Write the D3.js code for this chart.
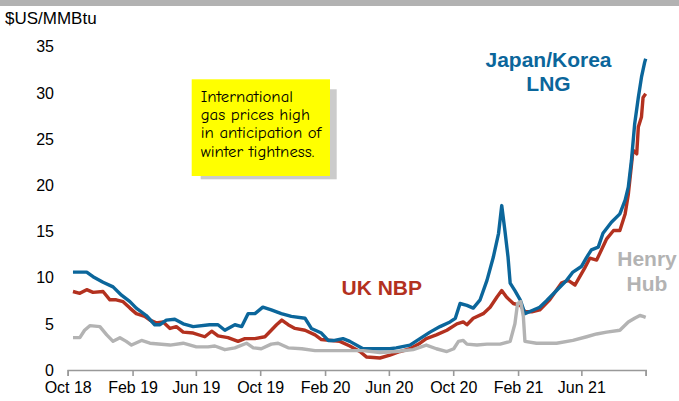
<!DOCTYPE html>
<html>
<head>
<meta charset="utf-8">
<script src="https://cdn.jsdelivr.net/npm/d3@7"></script>
<style>
  body { margin: 0; background: #fff; }
  svg { display: block; font-family: Arial, "Liberation Sans", sans-serif; }
</style>
</head>
<body>
<div id="chart"></div>
<script>
// International gas prices, $US/MMBtu, Oct 2018 - Oct 2021

var jkLNG = [
  ["2018-10-11", 10.6], ["2018-11-06", 10.6], ["2018-11-18", 10.1], ["2018-12-07", 9.5],
  ["2018-12-26", 9.0], ["2019-01-11", 8.1], ["2019-01-27", 7.4], ["2019-02-08", 6.7],
  ["2019-02-27", 5.9], ["2019-03-15", 4.9], ["2019-03-25", 4.9], ["2019-04-06", 5.4],
  ["2019-04-22", 5.5], ["2019-05-08", 5.0], ["2019-05-27", 4.7], ["2019-06-27", 4.9],
  ["2019-07-13", 4.9], ["2019-07-26", 4.3], ["2019-08-14", 4.9], ["2019-08-27", 4.7],
  ["2019-09-08", 6.1], ["2019-09-21", 6.1], ["2019-10-06", 6.8], ["2019-10-22", 6.5],
  ["2019-11-10", 6.1], ["2019-11-29", 5.8], ["2019-12-25", 5.6], ["2020-01-06", 4.5],
  ["2020-01-25", 4.0], ["2020-02-07", 3.2], ["2020-02-19", 3.2], ["2020-03-06", 3.4],
  ["2020-03-19", 3.1], ["2020-04-13", 2.3], ["2020-06-03", 2.3], ["2020-06-15", 2.4],
  ["2020-07-11", 2.7], ["2020-07-30", 3.4], ["2020-08-18", 4.1], ["2020-09-06", 4.7],
  ["2020-09-25", 5.2], ["2020-10-05", 5.6], ["2020-10-14", 7.2], ["2020-10-27", 7.0],
  ["2020-11-08", 6.7], ["2020-11-21", 7.6], ["2020-12-04", 9.7], ["2020-12-16", 12.2],
  ["2020-12-26", 14.8], ["2021-01-01", 17.8], ["2021-01-07", 15.1], ["2021-01-13", 12.2],
  ["2021-01-17", 9.4], ["2021-01-26", 8.6], ["2021-02-05", 7.6], ["2021-02-14", 6.1],
  ["2021-03-02", 6.5], ["2021-03-14", 6.8], ["2021-03-27", 7.5], ["2021-04-15", 8.6],
  ["2021-05-04", 9.7], ["2021-05-16", 10.6], ["2021-06-01", 11.2], ["2021-06-11", 12.2],
  ["2021-06-20", 13.0], ["2021-07-03", 13.3], ["2021-07-12", 14.8], ["2021-07-28", 16.0],
  ["2021-08-13", 16.9], ["2021-08-23", 18.4], ["2021-08-29", 19.8], ["2021-09-04", 22.7],
  ["2021-09-10", 26.6], ["2021-09-17", 29.5], ["2021-09-23", 31.7], ["2021-09-29", 33.3],
  ["2021-10-01", 33.7]
];

var ukNBP = [
  ["2018-10-11", 8.5], ["2018-10-24", 8.3], ["2018-11-06", 8.7], ["2018-11-18", 8.4],
  ["2018-12-07", 8.5], ["2018-12-20", 7.6], ["2019-01-01", 7.6], ["2019-01-14", 7.4],
  ["2019-01-27", 6.7], ["2019-02-08", 6.1], ["2019-02-24", 5.8], ["2019-03-06", 5.4],
  ["2019-03-18", 5.1], ["2019-03-31", 5.2], ["2019-04-13", 4.5], ["2019-04-25", 4.7],
  ["2019-05-08", 4.1], ["2019-05-27", 4.0], ["2019-06-18", 3.6], ["2019-07-01", 4.2],
  ["2019-07-13", 3.7], ["2019-08-01", 3.5], ["2019-08-20", 3.1], ["2019-09-02", 3.4],
  ["2019-09-21", 3.4], ["2019-10-10", 3.6], ["2019-10-22", 4.3], ["2019-11-01", 4.9],
  ["2019-11-11", 5.4], ["2019-11-23", 4.9], ["2019-12-06", 4.5], ["2019-12-25", 4.3],
  ["2020-01-13", 3.8], ["2020-01-25", 3.3], ["2020-02-13", 3.2], ["2020-02-29", 3.1],
  ["2020-03-19", 2.6], ["2020-04-07", 2.0], ["2020-04-20", 1.4], ["2020-05-15", 1.3],
  ["2020-06-03", 1.6], ["2020-06-22", 2.0], ["2020-07-11", 2.3], ["2020-07-30", 2.9],
  ["2020-08-11", 3.4], ["2020-08-30", 3.8], ["2020-09-19", 4.3], ["2020-10-08", 5.0],
  ["2020-10-20", 5.2], ["2020-10-27", 4.9], ["2020-11-08", 5.6], ["2020-11-27", 6.1],
  ["2020-12-10", 6.8], ["2020-12-23", 7.9], ["2021-01-01", 8.6], ["2021-01-10", 7.9],
  ["2021-01-23", 7.2], ["2021-02-05", 7.0], ["2021-02-14", 6.3], ["2021-02-27", 6.3],
  ["2021-03-14", 6.5], ["2021-04-02", 7.6], ["2021-04-24", 9.4], ["2021-05-07", 9.7],
  ["2021-05-20", 9.2], ["2021-05-29", 10.1], ["2021-06-07", 11.0], ["2021-06-17", 12.1],
  ["2021-06-30", 11.9], ["2021-07-09", 13.0], ["2021-07-19", 14.2], ["2021-08-01", 15.1],
  ["2021-08-13", 15.1], ["2021-08-23", 16.9], ["2021-08-29", 19.0], ["2021-09-07", 23.8],
  ["2021-09-14", 23.4], ["2021-09-17", 26.3], ["2021-09-23", 27.4], ["2021-09-26", 29.5],
  ["2021-10-01", 29.9]
];

var henryHub = [
  ["2018-10-11", 3.5], ["2018-10-24", 3.5], ["2018-11-02", 4.3], ["2018-11-12", 4.8],
  ["2018-12-01", 4.7], ["2018-12-14", 3.8], ["2018-12-26", 3.1], ["2019-01-08", 3.5],
  ["2019-01-20", 3.1], ["2019-01-30", 2.7], ["2019-02-18", 3.2], ["2019-03-06", 2.9],
  ["2019-04-13", 2.7], ["2019-05-08", 2.9], ["2019-06-02", 2.5], ["2019-06-24", 2.5],
  ["2019-07-07", 2.6], ["2019-07-26", 2.2], ["2019-08-14", 2.4], ["2019-09-05", 2.9],
  ["2019-09-18", 2.4], ["2019-10-03", 2.3], ["2019-10-22", 2.8], ["2019-11-04", 2.9],
  ["2019-11-23", 2.4], ["2019-12-19", 2.3], ["2020-01-13", 2.1], ["2020-02-13", 2.1],
  ["2020-03-19", 2.1], ["2020-04-13", 2.1], ["2020-05-15", 1.9], ["2020-06-15", 2.0],
  ["2020-07-17", 2.2], ["2020-08-11", 2.7], ["2020-08-30", 2.3], ["2020-09-19", 2.0],
  ["2020-10-02", 2.3], ["2020-10-11", 3.1], ["2020-10-20", 3.2], ["2020-10-27", 2.8],
  ["2020-11-15", 2.7], ["2020-12-04", 2.8], ["2020-12-29", 2.8], ["2021-01-17", 3.1],
  ["2021-01-26", 5.0], ["2021-01-31", 7.2], ["2021-02-06", 7.4], ["2021-02-11", 5.8],
  ["2021-02-14", 3.1], ["2021-03-08", 2.9], ["2021-04-02", 2.9], ["2021-04-15", 2.9],
  ["2021-05-16", 3.2], ["2021-06-11", 3.6], ["2021-06-30", 3.9], ["2021-07-19", 4.1],
  ["2021-08-13", 4.3], ["2021-08-29", 5.2], ["2021-09-10", 5.6], ["2021-09-20", 5.9],
  ["2021-09-26", 5.8], ["2021-10-01", 5.7]
];

var xTickDates = ["2018-10-01", "2019-02-01", "2019-06-01", "2019-10-01", "2020-02-01",
                  "2020-06-01", "2020-10-01", "2021-02-01", "2021-06-01", "2021-10-01"];
var xTickLabels = ["Oct 18", "Feb 19", "Jun 19", "Oct 19", "Feb 20",
                   "Jun 20", "Oct 20", "Feb 21", "Jun 21", ""];
var yTicks = [0, 5, 10, 15, 20, 25, 30, 35];

var noteLines = ["International", "gas prices high", "in anticipation of", "winter tightness."];

var blue = "#0b669b", red = "#b3311f", grey = "#b3b3b3";

var width = 679, height = 401;
var parse = d3.timeParse("%Y-%m-%d");

var svg = d3.select("#chart").append("svg")
    .attr("width", width)
    .attr("height", height);

// grey strip along the top
svg.append("rect")
    .attr("x", 0).attr("y", 0)
    .attr("width", width).attr("height", 6)
    .attr("fill", "#b2b2b2");

var x = d3.scaleTime()
    .domain([parse("2018-10-01"), parse("2021-10-01")])
    .range([67.7, 645.7]);

var y = d3.scaleLinear()
    .domain([0, 35])
    .range([370, 46.7]);

// y labels (no axis line)
svg.append("g")
    .selectAll("text")
    .data(yTicks)
  .enter().append("text")
    .attr("x", 54)
    .attr("y", function(d) { return y(d); })
    .attr("dy", "0.36em")
    .attr("text-anchor", "end")
    .style("font-size", "16px")
    .attr("fill", "#000")
    .text(function(d) { return d; });

// x axis
var xAxis = d3.axisBottom(x)
    .tickValues(xTickDates.map(parse))
    .tickSizeOuter(0)
    .tickSize(6)
    .tickPadding(6)
    .tickFormat(function(d, i) { return xTickLabels[i]; });

var xg = svg.append("g")
    .attr("transform", "translate(0,370)")
    .call(xAxis);
xg.select(".domain").attr("stroke", "#999").attr("stroke-width", 1.6);
xg.selectAll(".tick line").attr("stroke", "#999").attr("stroke-width", 1.6);
xg.selectAll(".tick text")
    .style("font-size", "16px")
    .style("font-family", "Arial, 'Liberation Sans', sans-serif")
    .attr("fill", "#000");

// axis unit
svg.append("text")
    .attr("x", 5).attr("y", 24)
    .style("font-size", "17px")
    .text("$US/MMBtu");

// lines
var line = d3.line()
    .x(function(d) { return x(parse(d[0])); })
    .y(function(d) { return y(d[1]); });

var series = [
  { data: ukNBP, color: red },
  { data: jkLNG, color: blue },
  { data: henryHub, color: grey }
];

svg.selectAll(".series")
    .data(series)
  .enter().append("path")
    .attr("class", "series")
    .attr("d", function(d) { return line(d.data); })
    .attr("fill", "none")
    .attr("stroke", function(d) { return d.color; })
    .attr("stroke-width", 3.4)
    .attr("stroke-linejoin", "round");

// series labels
function label(lines, cx, y0, color, anchor) {
    var t = svg.append("text")
        .attr("text-anchor", anchor)
        .style("font-size", "21px")
        .style("font-weight", "bold")
        .attr("fill", color);
    lines.forEach(function(s, i) {
        t.append("tspan").attr("x", cx).attr("y", y0 + i * 24.5).text(s);
    });
}
label(["Japan/Korea", "LNG"], 548.5, 66.5, blue, "middle");
label(["UK NBP"], 341.5, 294.5, red, "start");
label(["Henry", "Hub"], 647, 266, grey, "middle");

// annotation box with drop shadow
svg.append("rect")
    .attr("x", 200.7).attr("y", 89.3)
    .attr("width", 136).attr("height", 90)
    .attr("fill", "#cbcbcb");
svg.append("rect")
    .attr("x", 191.7).attr("y", 79.3)
    .attr("width", 138.3).attr("height", 96.7)
    .attr("fill", "#ffff00");

var note = svg.append("text")
    .style("font-family", "'Comic Sans MS', 'Comic Neue', 'DejaVu Sans', sans-serif")
    .style("font-size", "16.8px")
    .attr("fill", "#000");
noteLines.forEach(function(s, i) {
    note.append("tspan").attr("x", 200.7).attr("y", 101.5 + i * 18.4).text(s);
});
</script>
</body>
</html>
